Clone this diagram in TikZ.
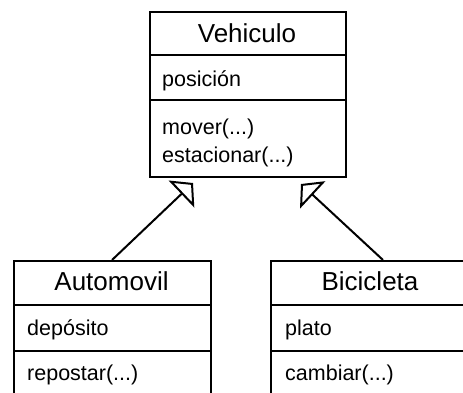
\documentclass[tikz,border=0pt]{standalone}
\usepackage{fontspec}
\setmainfont{Liberation Sans}
\usetikzlibrary{arrows.meta}
\tikzset{
  umlbox/.style={draw, line width=2pt, anchor=north west, inner sep=0pt, rectangle},
  sepline/.style={line width=2pt},
  titletext/.style={anchor=base, inner sep=0pt, font=\fontsize{26}{30}\selectfont},
  membertext/.style={anchor=base west, inner sep=0pt, font=\fontsize{21.5}{25}\selectfont},
  inherit/.style={line width=2pt, -{Triangle[open, length=16pt, width=37pt, line width=2pt]}}
}
\begin{document}
\begin{tikzpicture}[x=1pt, y=-1pt]
\useasboundingbox (0,0) rectangle (463,392);
\clip (0,0) rectangle (463,392);
\fill[white] (0,0) rectangle (463,392);
% Vehiculo
\node[umlbox, minimum width=196pt, minimum height=165pt] (veh) at (149,11) {};
\draw[sepline] (149,55) -- (345,55);
\draw[sepline] (149,100) -- (345,100);
\node[titletext] (vehT) at (247,42) {Vehiculo};
\node[membertext] (vehA) at (162,86) {posición};
\node[membertext] (vehM1) at (162,134) {mover(...)};
\node[membertext] (vehM2) at (162,162) {estacionar(...)};
% Automovil
\node[umlbox, minimum width=197pt, minimum height=150pt] (auto) at (13,260) {};
\draw[sepline] (13,305) -- (210,305);
\draw[sepline] (13,351) -- (210,351);
\node[titletext] (autoT) at (111.5,290) {Automovil};
\node[membertext] (autoA) at (27,335) {depósito};
\node[membertext] (autoM) at (27,380) {repostar(...)};
% Bicicleta
\node[umlbox, minimum width=200pt, minimum height=150pt] (bici) at (270,260) {};
\draw[sepline] (270,305) -- (470,305);
\draw[sepline] (270,351) -- (470,351);
\node[titletext] (biciT) at (370,290) {Bicicleta};
\node[membertext] (biciA) at (285,335) {plato};
\node[membertext] (biciM) at (285,380) {cambiar(...)};
% generalizations
\coordinate (a1) at (112,260);
\coordinate (t1) at (193,183);
\coordinate (b1) at (383,260);
\coordinate (t2) at (301,184);
\draw[inherit] (a1) -- (t1);
\draw[inherit] (b1) -- (t2);
\end{tikzpicture}
\end{document}
